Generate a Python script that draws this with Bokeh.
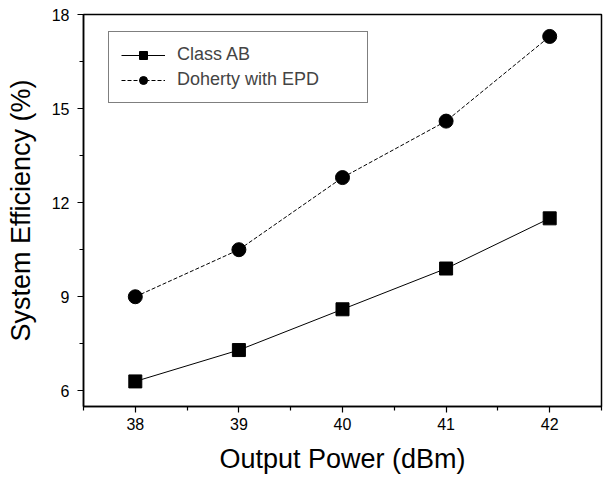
from bokeh.plotting import figure
from bokeh.models import Range1d, FixedTicker, Legend, LegendItem
from bokeh.embed import file_html
from bokeh.resources import INLINE

power = [38, 39, 40, 41, 42]
class_ab = [6.3, 7.3, 8.6, 9.9, 11.5]
doherty = [9.0, 10.5, 12.8, 14.6, 17.3]
x_ticks = [38, 39, 40, 41, 42]
y_ticks = [6, 9, 12, 15, 18]

FONT = "Liberation Sans"

p = figure(width=603, height=476, output_backend="svg", toolbar_location=None,
           x_range=Range1d(37.5, 42.5), y_range=Range1d(5.5, 18.0),
           min_border_left=83, min_border_right=2, min_border_top=14, min_border_bottom=60)
p.background_fill_color = "white"
p.border_fill_color = "white"
p.outline_line_color = "black"
p.outline_line_width = 1.5
p.grid.visible = False

r1 = p.line(power, class_ab, line_color="black", line_width=1)
s1 = p.scatter(power, class_ab, marker="square", size=13, fill_color="black", line_color="black")
r2 = p.line(power, doherty, line_color="black", line_width=1, line_dash="4 2")
s2 = p.scatter(power, doherty, marker="circle", size=14, fill_color="black", line_color="black")

for ax in (p.xaxis[0], p.yaxis[0]):
    ax.axis_line_width = 1.5
    ax.major_tick_line_width = 1.2
    ax.minor_tick_line_width = 1.2
    ax.major_tick_out = 6
    ax.major_tick_in = 0
    ax.minor_tick_out = 4
    ax.minor_tick_in = 0
    ax.major_label_text_font = FONT
    ax.major_label_text_font_size = "16px"
    ax.major_label_text_color = "black"
    ax.axis_label_text_font = FONT
    ax.axis_label_text_font_size = "27px"
    ax.axis_label_text_font_style = "normal"
    ax.axis_label_text_color = "black"

p.xaxis.ticker = FixedTicker(ticks=x_ticks, minor_ticks=[37.5, 38.5, 39.5, 40.5, 41.5, 42.5])
p.yaxis.ticker = FixedTicker(ticks=y_ticks, minor_ticks=[7.5, 10.5, 13.5, 16.5])
p.xaxis.axis_label = "Output Power (dBm)"
p.yaxis.axis_label = "System Efficiency (%)"
p.xaxis.major_label_standoff = 5
p.yaxis.major_label_standoff = 8
p.xaxis.axis_label_standoff = 11
p.yaxis.axis_label_standoff = 13

legend = Legend(items=[LegendItem(label="Class AB", renderers=[r1, s1]),
                       LegendItem(label="Doherty with EPD", renderers=[r2, s2])],
                location=(25, 303))
legend.label_text_font = FONT
legend.label_text_font_size = "18px"
legend.border_line_color = "black"
legend.border_line_width = 1
legend.padding = 12
legend.spacing = 4
legend.glyph_width = 44
legend.label_width = 178
legend.label_standoff = 12
legend.margin = 0
p.add_layout(legend)

open("out.html", "w").write(file_html(p, INLINE))
